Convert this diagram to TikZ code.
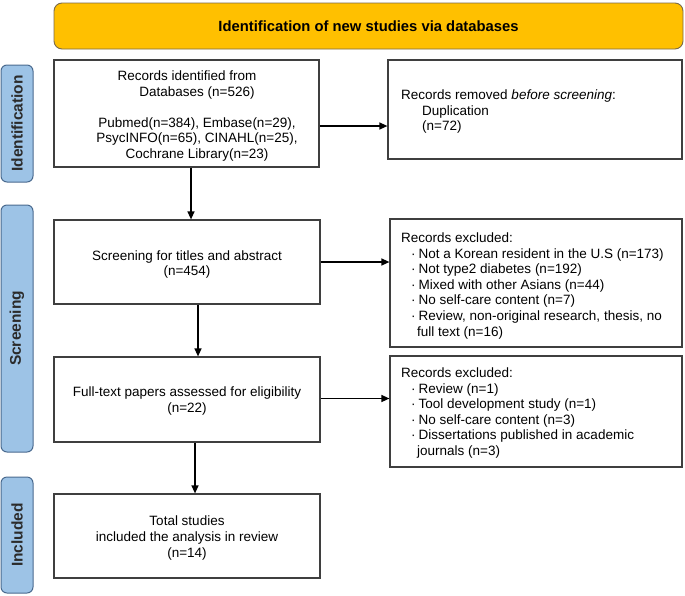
\documentclass[tikz,border=0pt]{standalone}
\usepackage{fontspec}
\setmainfont{Liberation Sans}
\usetikzlibrary{arrows.meta}
\definecolor{hdrfill}{HTML}{FFC000}
\definecolor{hdrdraw}{HTML}{7A6A4A}
\definecolor{sidefill}{HTML}{9DC3E6}
\definecolor{sidedraw}{HTML}{4A6A8F}
\definecolor{boxdraw}{HTML}{3F3F3F}
\definecolor{sidetext}{HTML}{2B2B2B}
\begin{document}
\begin{tikzpicture}[x=1pt,y=-1pt,
  hdr/.style={draw=hdrdraw,fill=hdrfill,line width=0.9pt,rounded corners=8pt,
    minimum width=629pt,minimum height=46pt,inner sep=0pt,
    font=\fontsize{14.8}{17}\selectfont\bfseries},
  side/.style={draw=sidedraw,fill=sidefill,line width=1pt,rounded corners=6pt,
    rotate=90,minimum height=32pt,inner sep=0pt,text=sidetext,
    font=\fontsize{15.5}{18}\selectfont\bfseries},
  box/.style={draw=boxdraw,line width=1.2pt,fill=white,inner sep=0pt},
  txt/.style={inner sep=0pt,font=\fontsize{13.5}{15.6}\selectfont},
  ctxt/.style={txt,align=center},
  ltxt/.style={txt,align=left,anchor=north west},
  arr/.style={draw=black,line width=1.3pt,-{Triangle[length=8pt,width=7pt]}}
]
\useasboundingbox (0,0) rectangle (685,595);
\newcommand{\bul}{\hspace*{10pt}·\hspace{3pt}}

% header
\node[hdr] (hdr) at (368.5,26) {Identification of new studies via databases};

% side labels
\node[side,minimum width=117pt] (sid) at (17,123.5) {Identification};
\node[side,minimum width=247pt] (ssc) at (17,328.5) {Screening};
\node[side,minimum width=116pt] (sin) at (17,535) {Included};

% left column boxes
\node[box,minimum width=265pt,minimum height=107pt] (b1) at (186.5,113.5) {};
\node[ctxt] (b1t) at (197,116) {Records identified from\hspace*{20pt}\\Databases (n=526)\\[15.6pt]Pubmed(n=384), Embase(n=29),\\PsycINFO(n=65), CINAHL(n=25),\\Cochrane Library(n=23)};

\node[box,minimum width=266pt,minimum height=84pt] (sc) at (187,262) {};
\node[ctxt] (sct) at (187,264.5) {Screening for titles and abstract\\(n=454)};

\node[box,minimum width=266pt,minimum height=85pt] (ft) at (187,399.5) {};
\node[ctxt] (ftt) at (187,401) {Full-text papers assessed for eligibility\\(n=22)};

\node[box,minimum width=266pt,minimum height=84pt] (inc) at (187,536) {};
\node[ctxt] (inct) at (187,538) {Total studies\\included the analysis in review\\(n=14)};

% right column boxes
\node[box,minimum width=294pt,minimum height=99pt] (rm) at (535,109.5) {};
\node[ltxt] (rmt) at (401,89.5) {Records removed \textit{before screening}:\\\hspace*{21pt}Duplication\\\hspace*{21pt}(n=72)};

\node[box,minimum width=292pt,minimum height=128pt] (ex1) at (536,283) {};
\node[ltxt] (ex1t) at (401,232.5) {Records excluded:\\
\bul Not a Korean resident in the U.S (n=173)\\
\bul Not type2 diabetes (n=192)\\
\bul Mixed with other Asians (n=44)\\
\bul No self-care content (n=7)\\
\bul Review, non-original research, thesis, no\\
\hspace*{16pt}full text (n=16)};

\node[box,minimum width=292pt,minimum height=111pt] (ex2) at (536,411.5) {};
\node[ltxt] (ex2t) at (401,367.5) {Records excluded:\\
\bul Review (n=1)\\
\bul Tool development study (n=1)\\
\bul No self-care content (n=3)\\
\bul Dissertations published in academic\\
\hspace*{16pt}journals (n=3)};

% connectors
\draw[arr] ([yshift=-12.5pt]b1.east) -- ([yshift=-12.5pt]b1.east -| rm.west);
\draw[arr] ([xshift=4.5pt]b1.south) -- ([xshift=4.5pt]b1.south |- sc.north);
\draw[arr] (sc.east) -- (sc.east -| ex1.west);
\draw[arr] ([xshift=11pt]sc.south) -- ([xshift=11pt]sc.south |- ft.north);
\draw[arr] ([yshift=1pt]ft.east) -- ([yshift=1pt]ft.east -| ex2.west);
\draw[arr] ([xshift=8pt]ft.south) -- ([xshift=8pt]ft.south |- inc.north);
\end{tikzpicture}
\end{document}
